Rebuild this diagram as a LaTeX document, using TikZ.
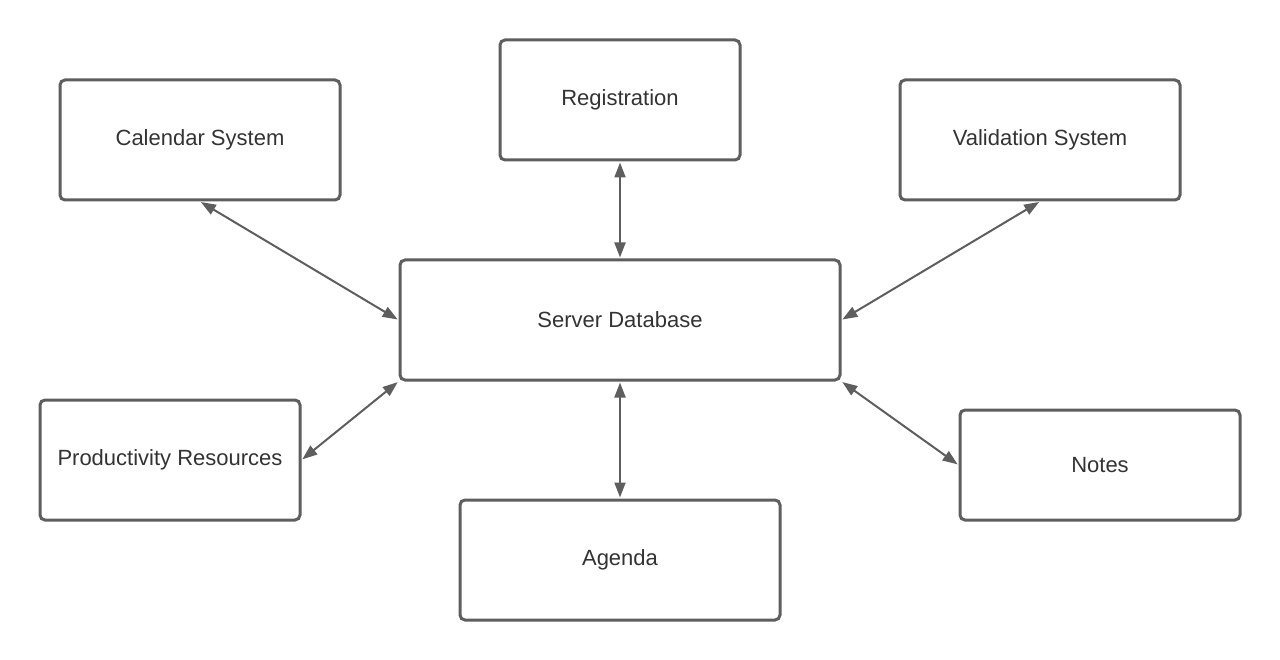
\documentclass[tikz,border=0pt]{standalone}
\usepackage{fontspec}
\setmainfont{Liberation Sans}
\usetikzlibrary{arrows.meta}
\definecolor{ln}{HTML}{5E5E5E}
\definecolor{tx}{HTML}{333333}
\begin{document}
\begin{tikzpicture}[x=1pt,y=-1pt,
  box/.style={draw=ln,line width=3pt,rounded corners=5pt,fill=white,inner sep=0pt,
    text=tx,font=\fontsize{22}{26}\selectfont},
  link/.style={draw=ln,line width=2pt,{Triangle[length=15pt,width=11pt]}-{Triangle[length=15pt,width=11pt]},shorten <=1pt,shorten >=1pt}]
\useasboundingbox (0,0) rectangle (1280,660);
\node[box,minimum width=280pt,minimum height=120pt] (cal) at (200,140) {Calendar System};
\node[box,minimum width=240pt,minimum height=120pt] (reg) at (620,100) {Registration};
\node[box,minimum width=280pt,minimum height=120pt] (val) at (1040,140) {Validation System};
\node[box,minimum width=440pt,minimum height=120pt] (srv) at (620,320) {Server Database};
\node[box,minimum width=260pt,minimum height=120pt] (pro) at (170,460) {Productivity Resources};
\node[box,minimum width=280pt,minimum height=110pt] (not) at (1100,465) {Notes};
\node[box,minimum width=320pt,minimum height=120pt] (age) at (620,560) {Agenda};
\draw[link] (cal.south) -- (srv.west);
\draw[link] (reg.south) -- (srv.north);
\draw[link] (val.south) -- (srv.east);
\draw[link] (pro.east) -- (srv.south west);
\draw[link] (srv.south) -- (age.north);
\draw[link] (srv.south east) -- (not.west);
\end{tikzpicture}
\end{document}
